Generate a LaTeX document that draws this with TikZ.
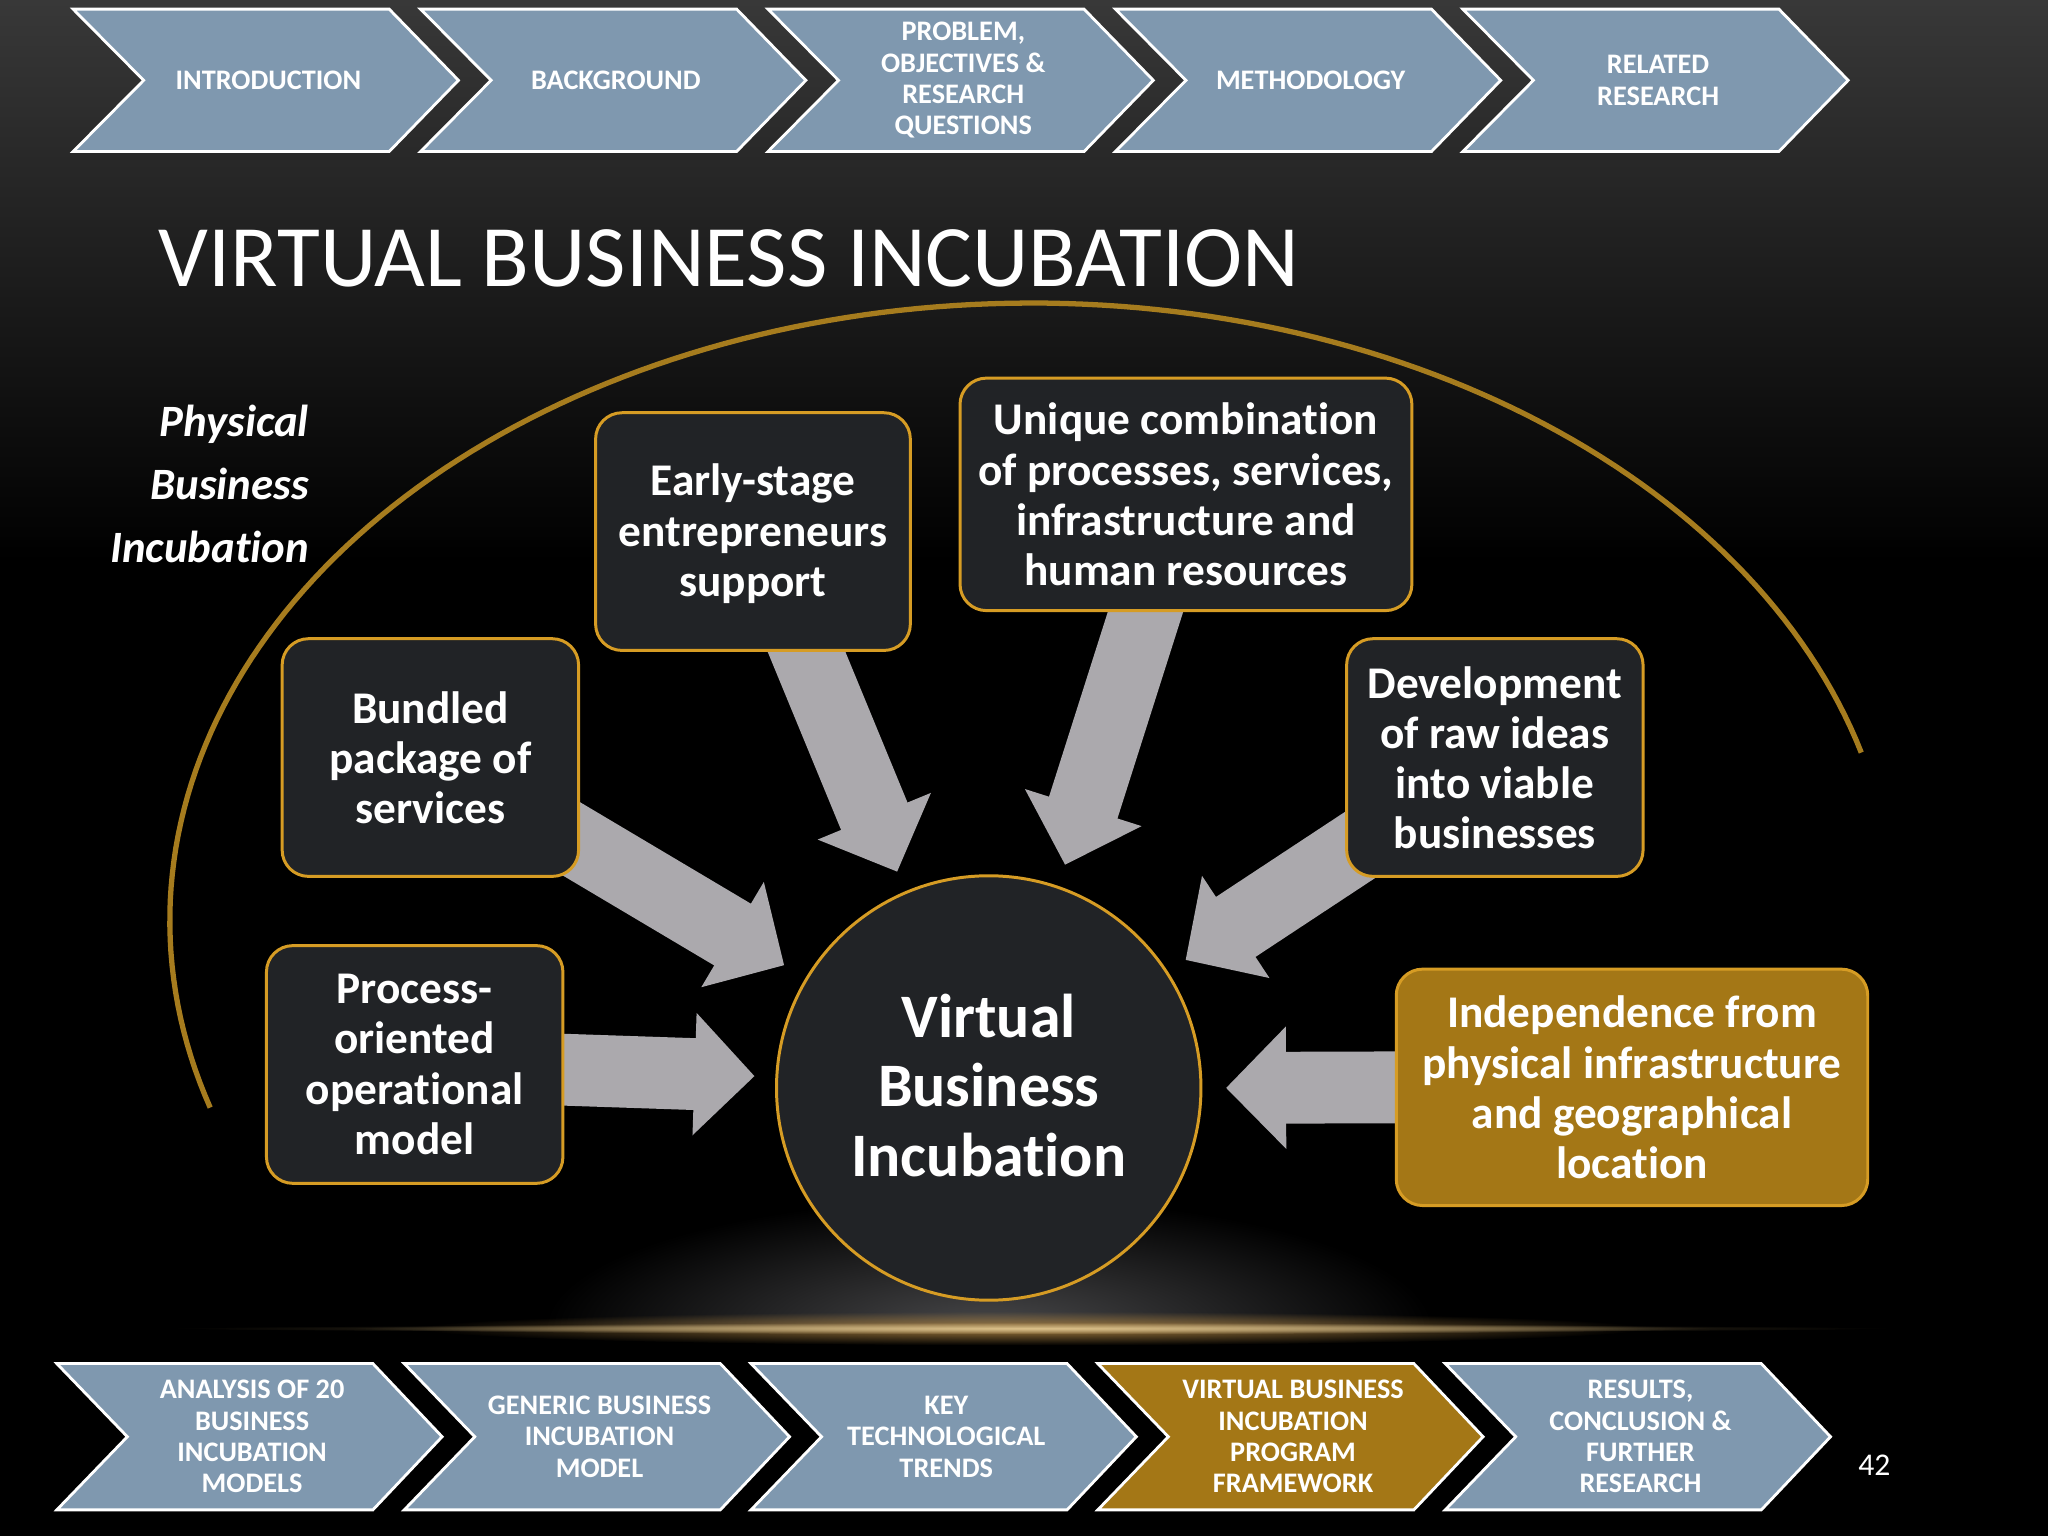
\documentclass[tikz,border=0pt]{standalone}
\usepackage{fontspec}
\setmainfont[Ligatures=NoCommon]{Carlito}
\usetikzlibrary{arrows.meta,fadings}
\tikzfading[name=softglow, inner color=transparent!0, outer color=transparent!100]
\definecolor{chevblue}{HTML}{7F98AF}
\definecolor{goldfill}{HTML}{A47716}
\definecolor{goldline}{HTML}{D69C24}
\definecolor{boxfill}{HTML}{212326}
\definecolor{arrowgrey}{HTML}{ABA9AD}
\definecolor{arcgold}{HTML}{A67C1E}
\definecolor{glowgrey}{HTML}{48484A}
\definecolor{halogold}{HTML}{A07A3E}
\definecolor{coregold}{HTML}{E0C48C}
\definecolor{faintgold}{HTML}{6A5A3A}
\newcommand{\uu}{0.3716pt}
\pgfdeclarelayer{bglayer}
\pgfdeclarelayer{arrowlayer}
\pgfsetlayers{bglayer,arrowlayer,main}
\tikzset{
  x=0.0130612cm, y=-0.0130612cm,
  chevshape/.style={draw=white, line width=0.8pt, line join=miter},
  chevtext/.style={text=white, font=\fontsize{8.05}{8.9}\selectfont\bfseries, align=center, inner sep=0pt},
  boxtext/.style={text=white, font=\fontsize{12.9}{14.25}\selectfont\bfseries, align=center, inner sep=0pt},
  infobox/.style={rounded corners=7.5pt, draw=goldline, line width=0.85pt, fill=boxfill, boxtext},
  goldbox/.style={infobox, fill=goldfill},
  blockarrow/.style={draw=arrowgrey, line width=55*\uu, shorten <=-8pt,
    -{Triangle[length=46*\uu,width=91*\uu,fill=arrowgrey]}},
}
\newcommand{\chev}[6]{% name, x0, ytop, ybot, fill, text
  \pgfmathsetmacro{\xa}{#2+242}\pgfmathsetmacro{\xb}{#2+295}\pgfmathsetmacro{\xn}{#2+54}\pgfmathsetmacro{\xt}{#2+149.5}
  \pgfmathsetmacro{\ym}{(#3+#4)/2}
  \draw[chevshape, fill=#5] (#2,#3) -- (\xa,#3) -- (\xb,\ym) -- (\xa,#4) -- (#2,#4) -- (\xn,\ym) -- cycle;
  \node[chevtext] (#1) at (\xt,\ym) {#6};
}
\begin{document}
\begin{tikzpicture}
\useasboundingbox (0,0) rectangle (1568,1176);
\begin{pgfonlayer}{bglayer}
  \fill[black] (0,0) rectangle (1568,1176);
  \shade[top color=black!78!white, bottom color=black] (0,0) rectangle (1568,430);
  \begin{scope}
    \clip (0,900) rectangle (1568,1017);
    \shade[inner color=glowgrey, outer color=black] (757,1017) ellipse (340 and 100);
  \end{scope}
  \fill[halogold, path fading=softglow] (790,1017) ellipse (470 and 13);
  \fill[faintgold, path fading=softglow] (790,1017) ellipse (660 and 3);
  \fill[coregold, path fading=softglow] (790,1017) ellipse (520 and 4.5);
\end{pgfonlayer}

\chev{t1}{56}{7}{116}{chevblue}{INTRODUCTION}
\chev{t2}{322}{7}{116}{chevblue}{BACKGROUND}
\chev{t3}{588}{7}{116}{chevblue}{PROBLEM,\\OBJECTIVES \&\\RESEARCH\\QUESTIONS}
\chev{t4}{854}{7}{116}{chevblue}{METHODOLOGY}
\chev{t5}{1120}{7}{116}{chevblue}{RELATED\\RESEARCH}
\chev{b1}{43.5}{1044}{1156}{chevblue}{ANALYSIS OF 20\\BUSINESS\\INCUBATION\\MODELS}
\chev{b2}{309.5}{1044}{1156}{chevblue}{GENERIC BUSINESS\\INCUBATION\\MODEL}
\chev{b3}{575}{1044}{1156}{chevblue}{KEY\\TECHNOLOGICAL\\TRENDS}
\chev{b4}{840.5}{1044}{1156}{goldfill}{VIRTUAL BUSINESS\\INCUBATION\\PROGRAM\\FRAMEWORK}
\chev{b5}{1106.5}{1044}{1156}{chevblue}{RESULTS,\\CONCLUSION \&\\FURTHER\\RESEARCH}

\node[text=white, anchor=west, inner sep=0pt, font=\fontsize{24.95}{28}\selectfont] (title) at (121,198) {VIRTUAL BUSINESS INCUBATION};
\node[text=white, inner sep=0pt, font=\fontsize{9}{10}\selectfont] (pageno) at (1435,1122) {42};
\node[text=white, anchor=east, inner sep=0pt, align=right, font=\fontsize{12.75}{17.85}\selectfont\bfseries\itshape] (phys) at (237,370.5) {Physical\\Business\\Incubation};

\draw[arcgold, line width=1.5pt, line cap=butt] plot[domain=162.4:344.2, samples=150] ({790+660*cos(\x)},{705+473*sin(\x)});

\node[infobox, minimum width=241*\uu, minimum height=182*\uu, label={[boxtext, yshift=-0.6pt]center:{Early-stage\\entrepreneurs\\support}}] (early) at (576.5,407) {};
\node[infobox, minimum width=346*\uu, minimum height=178*\uu] (unique) at (908,378.5) {Unique combination\\of processes, services,\\infrastructure and\\human resources};
\node[infobox, minimum width=227*\uu, minimum height=182*\uu] (bundled) at (329.5,580) {Bundled\\package of\\services};
\node[infobox, minimum width=227*\uu, minimum height=182*\uu] (dev) at (1144.5,580) {Development\\of raw ideas\\into viable\\businesses};
\node[infobox, minimum width=227*\uu, minimum height=182*\uu] (process) at (317.5,815) {Process-\\oriented\\operational\\model};
\node[goldbox, minimum width=361*\uu, minimum height=181*\uu] (indep) at (1249.5,832.5) {Independence from\\physical infrastructure\\and geographical\\location};
\node[circle, draw=goldline, line width=0.85pt, fill=boxfill, minimum size=325*\uu, inner sep=0pt,
  label={[text=white, inner sep=0pt, align=center, yshift=0.75pt, font=\fontsize{17.6}{19.7}\selectfont\bfseries]center:{Virtual\\Business\\Incubation}}] (vbi) at (757,833) {};

\begin{pgfonlayer}{arrowlayer}
  \draw[blockarrow, shorten >=7.06pt] (bundled.-30.7) -- (vbi.149.8);
  \draw[blockarrow, shorten >=6pt] (early.-66) -- (vbi.113);
  \draw[blockarrow, shorten >=6.3pt] (unique.-109.2) -- (vbi.71.9);
  \draw[blockarrow, shorten >=6pt] (dev.213.7) -- (vbi.33.2);
  \draw[blockarrow, shorten >=6.7pt] (indep.west) -- (vbi.east);
  \draw[blockarrow, shorten >=5.9pt] (process.-2.5) -- (vbi.177);
\end{pgfonlayer}
\end{tikzpicture}
\end{document}
